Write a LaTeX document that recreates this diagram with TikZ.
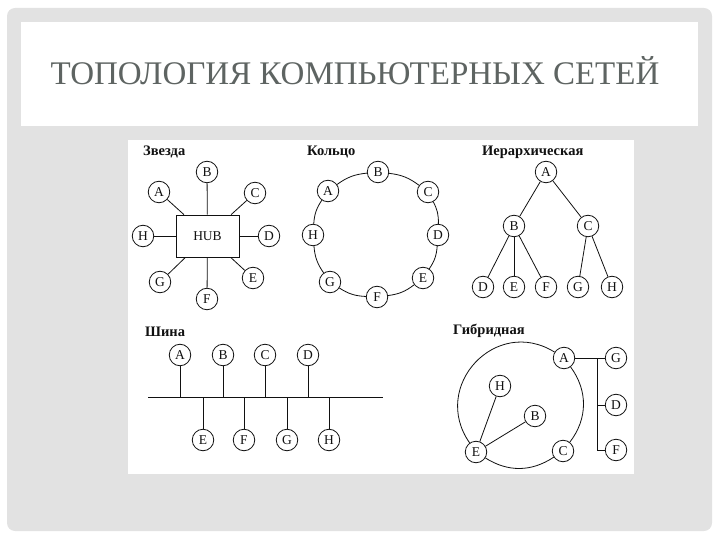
\documentclass[tikz,border=0pt]{standalone}
\usepackage{fontspec}
\setmainfont{Liberation Serif}
\usepackage{tikz}
\usetikzlibrary{positioning, calc}
\definecolor{frame}{HTML}{E2E2E2}
\definecolor{titletext}{HTML}{5E6462}
\definecolor{ink}{HTML}{111111}
\tikzset{
  nd/.style={circle, draw=ink, line width=0.8pt, fill=white, text=ink,
    inner sep=0pt, minimum size=21.5pt, font=\fontsize{13.5}{15}\selectfont},
  hubbox/.style={rectangle, draw=ink, line width=0.8pt, fill=white, text=ink,
    minimum width=63pt, minimum height=42pt, font=\fontsize{13.5}{15}\selectfont},
  lbl/.style={anchor=west, inner sep=0pt, text=ink, font=\bfseries\fontsize{14.5}{16}\selectfont},
  ttl/.style={text=titletext, font=\fontsize{33}{36}\selectfont},
  ln/.style={draw=ink, line width=0.8pt},
}

\begin{document}
\begin{tikzpicture}[x=1pt, y=1pt]
  \useasboundingbox (0,0) rectangle (720,-540);
  \fill[frame, rounded corners=8pt] (7,-8) rectangle (712,-531);
  \fill[white] (21,-22) rectangle (698,-126);
  \fill[white] (128,-140) rectangle (634,-474);
  \node[ttl] (title) at (355,-71) {ТОПОЛОГИЯ КОМПЬЮТЕРНЫХ СЕТЕЙ};

  % star
  \node[lbl] (lstar) at (143,-152) {Звезда};
  \node[hubbox] (hub) at (207.5,-236) {HUB};
  \node[nd] (sA) at (159,-192) {A};
  \node[nd] (sB) at (207,-172) {B};
  \node[nd] (sC) at (255,-193) {C};
  \node[nd] (sD) at (269,-236) {D};
  \node[nd] (sE) at (253,-278) {E};
  \node[nd] (sF) at (207,-299) {F};
  \node[nd] (sG) at (160,-282) {G};
  \node[nd] (sH) at (143,-236) {H};
  \foreach \n in {A,...,H} \draw[ln] (s\n) -- (hub);

  % ring
  \node[lbl] (lring) at (307,-152) {Кольцо};
  \node[nd] (rA) at (328,-191) {A};
  \node[nd] (rB) at (378,-172) {B};
  \node[nd] (rC) at (428,-192) {C};
  \node[nd] (rD) at (438,-235) {D};
  \node[nd] (rE) at (423,-278) {E};
  \node[nd] (rF) at (377,-297) {F};
  \node[nd] (rG) at (330,-282) {G};
  \node[nd] (rH) at (313,-235) {H};
  \foreach \a/\b in {B/C,C/D,D/E,E/F,F/G,G/H,H/A,A/B}
    \draw[ln] (r\a) to[bend left=15] (r\b);

  % tree
  \node[lbl] (ltree) at (482,-152) {Иерархическая};
  \node[nd] (hA) at (546,-172) {A};
  \node[nd] (hB) at (514,-226) {B};
  \node[nd] (hC) at (588,-226) {C};
  \node[nd] (hD) at (483,-287) {D};
  \node[nd] (hE) at (514,-287) {E};
  \node[nd] (hF) at (546,-287) {F};
  \node[nd] (hG) at (578,-287) {G};
  \node[nd] (hH) at (612,-287) {H};
  \foreach \a/\b in {A/B,A/C,B/D,B/E,B/F,C/G,C/H}
    \draw[ln] (h\a) -- (h\b);

  % bus
  \node[lbl] (lbus) at (145,-332) {Шина};
  \coordinate (busl) at (148,-397);
  \coordinate (busr) at (383,-397);
  \node[nd] (bA) at (180,-355) {A};
  \node[nd] (bB) at (223,-355) {B};
  \node[nd] (bC) at (265,-355) {C};
  \node[nd] (bD) at (308,-355) {D};
  \node[nd] (bE) at (203,-440) {E};
  \node[nd] (bF) at (244,-440) {F};
  \node[nd] (bG) at (287,-440) {G};
  \node[nd] (bH) at (329,-440) {H};
  \draw[ln] (busl) -- (busr);
  \foreach \n in {A,...,H} \draw[ln] (b\n) -- (b\n |- busl);

  % hybrid
  \node[lbl] (lhyb) at (453,-331) {Гибридная};
  \node[nd] (yA) at (564,-358) {A};
  \node[nd] (yB) at (535,-416) {B};
  \node[nd] (yC) at (563,-451) {C};
  \node[nd] (yD) at (616,-405) {D};
  \node[nd] (yE) at (476,-452) {E};
  \node[nd] (yF) at (616,-450) {F};
  \node[nd] (yG) at (616,-358) {G};
  \node[nd] (yH) at (500,-386) {H};
  \coordinate (trk1) at (597,-358);
  \coordinate (trk2) at (597,-450);
  \draw[ln] (yA) to[bend left=37] (yC);
  \draw[ln] (yC) to[bend left=33] (yE);
  \draw[ln] (yE) to[out=125, in=148, looseness=1.42] (yA);
  \draw[ln] (yE) -- (yH);
  \draw[ln] (yE) -- (yB);
  \draw[ln] (yA) -- (yG);
  \draw[ln] (trk1) -- (trk2);
  \draw[ln] (trk1 |- yD) -- (yD);
  \draw[ln] (trk2) -- (yF);
\end{tikzpicture}
\end{document}
